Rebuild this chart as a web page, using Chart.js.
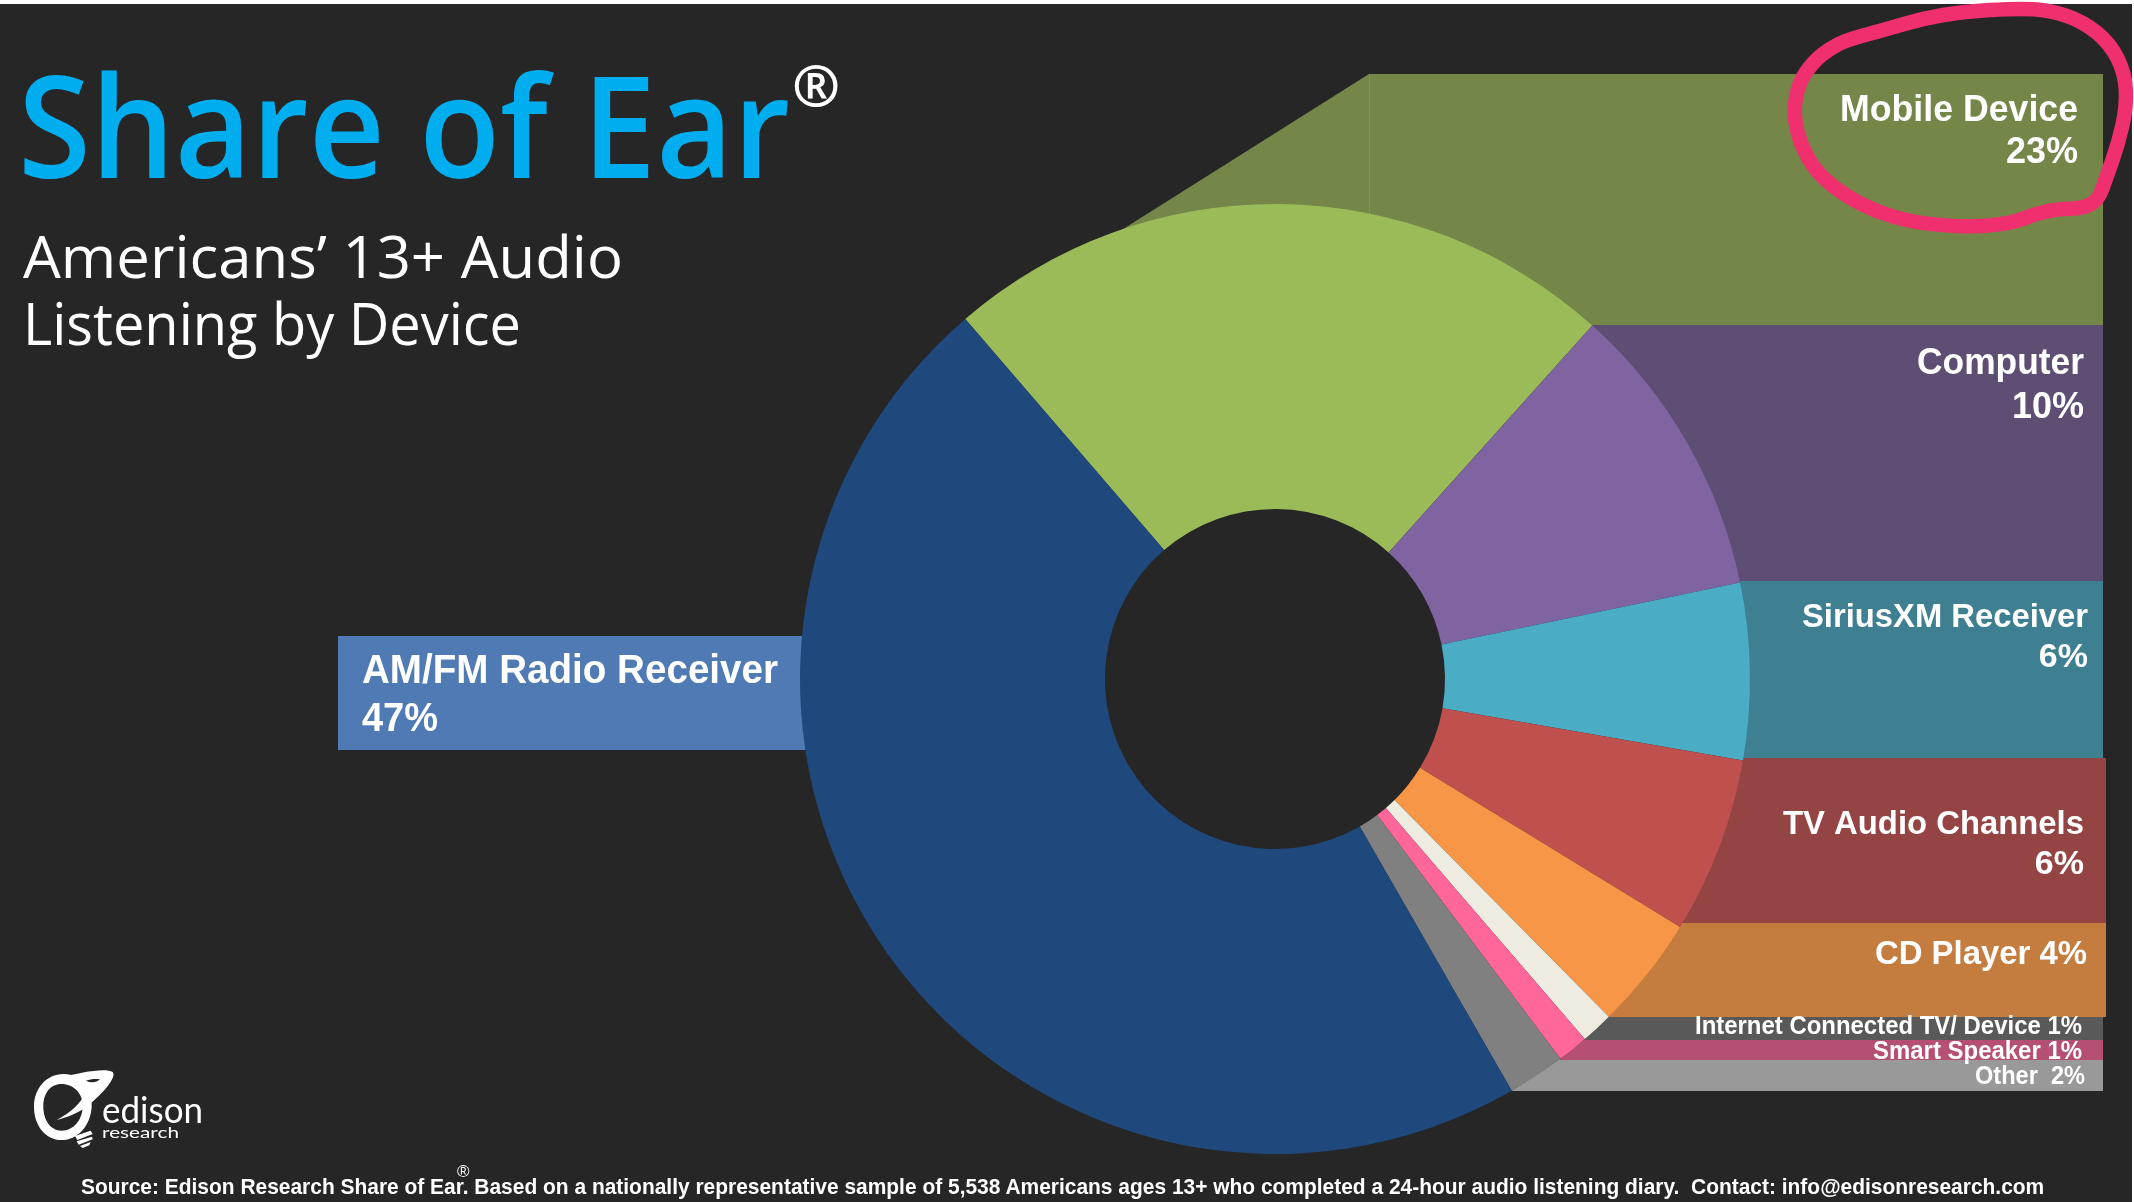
<!DOCTYPE html>
<html>
<head>
<meta charset="utf-8">
<title>Share of Ear</title>
<script src="https://cdn.jsdelivr.net/npm/chart.js@4"></script>
<style>
html,body{margin:0;padding:0;background:#fff;}
#stage{position:absolute;left:0;top:4px;width:2132px;height:1198px;background:#262626;overflow:hidden;}
#wrap{position:absolute;left:0;top:0;width:2134px;height:1202px;}
canvas{display:block;}
.t{position:absolute;white-space:pre;transform-origin:0 0;line-height:1;}
</style>
</head>
<body>
<div id="stage"></div>
<div id="wrap"><canvas id="c" width="2134" height="1202"></canvas></div>
<svg style="position:absolute;left:0;top:0" width="2134" height="1202">
  <g transform="translate(20,1060) scale(0.3333)" fill="#fff">
    <path fill-rule="evenodd" d="M130 42 C190 42 218 90 215 140 C212 195 175 240 125 240 C75 240 42 195 42 140 C42 85 80 42 130 42 Z M125 72 C90 72 70 100 70 140 C70 180 92 212 125 212 C160 212 187 180 188 140 C190 100 160 72 125 72 Z"/>
    <path fill-rule="evenodd" d="M125 52 C180 38 255 22 278 36 C292 52 245 105 200 140 C172 160 140 172 110 180 C150 158 185 130 198 92 C190 72 160 62 125 52 Z M198 62 C215 70 230 68 240 58 C225 56 210 58 198 62 Z"/>
    <path d="M165 228 L212 212 L218 222 L172 240 Z M170 244 L216 230 L218 238 L176 254 Z M180 258 L212 246 L208 256 L188 264 Z"/>
  </g>
</svg>
<script>
const categories = ["Mobile Device","Computer","SiriusXM Receiver","TV Audio Channels","CD Player","Internet Connected TV/ Device","Smart Speaker","Other","AM/FM Radio Receiver"];
const sliceShares = [22.95,10.1,6.0,6.0,3.85,1.1,1.05,1.95,47.0];
const labelPercents = ["23%","10%","6%","6%","4%","1%","1%","2%","47%"];
const sliceColors = ["#9bbb59","#8064a2","#4bacc6","#c0504d","#f79646","#eeece1","#ff6699","#808080","#1f497d"];
const bandColors = ["#748648","#5f4e73","#3e7f91","#944442","#c47c3f","#595959","#b54f73","#999999","#4f7ab3"];

/* band layout: top, bottom, right edge; labels: right edge, baselines, font, fitted width */
const bandBoxes = [[74,325,2103],[325,581,2103],[581,758,2103],[758,923,2106],[923,1017,2106],[1017,1040,2103],[1040,1060,2103],[1060,1091,2103]];
const labelLayout = [
 {x:2078,y:[121,163],size:36,lines:2,w:238},
 {x:2084,y:[374,418],size:36,lines:2,w:167},
 {x:2088,y:[627,667],size:34,lines:2,w:286},
 {x:2084,y:[834,874],size:34,lines:2,w:301},
 {x:2087,y:[964],size:33,lines:1,w:212},
 {x:2082,y:[1034],size:26,lines:1,w:387},
 {x:2082,y:[1059],size:26,lines:1,w:209},
 {x:2085,y:[1084],size:26,lines:1,w:110}
];
const ringPath = [[290,120],[400,90],[520,55],[640,35],[800,25],[900,30],[1000,65],[1080,130],[1125,220],[1130,320],[1105,430],[1070,530],[1045,600],[1000,625],[920,628],[860,640],[800,665],[700,680],[600,678],[480,665],[380,635],[290,590],[200,520],[150,430],[130,340],[145,250],[190,185],[240,145]];

const bandsPlugin = {
  id:'bands',
  beforeDatasetsDraw(chart){
    const ctx = chart.ctx, arcs = chart.getDatasetMeta(0).data;
    const pt = (a,ang)=>({x:a.x+Math.cos(ang)*a.outerRadius, y:a.y+Math.sin(ang)*a.outerRadius});
    ctx.save();
    bandBoxes.forEach((b,i)=>{
      const a = arcs[i], s = pt(a,a.startAngle), e = pt(a,a.endAngle);
      ctx.fillStyle = bandColors[i];
      ctx.beginPath();
      if(i===0){ ctx.moveTo(1093,248); ctx.lineTo(1369,b[0]); }
      else { ctx.moveTo(s.x,s.y); ctx.lineTo(s.x,b[0]); }
      ctx.lineTo(b[2],b[0]);
      ctx.lineTo(b[2],b[1]);
      ctx.lineTo(e.x,b[1]);
      ctx.lineTo(e.x,e.y);
      ctx.closePath();
      ctx.fill();
    });
    ctx.fillStyle = '#82944f';
    ctx.fillRect(1369,74,1,150);
    ctx.fillStyle = bandColors[8];
    ctx.fillRect(338,636,470,114);
    ctx.restore();
  },
  afterDatasetsDraw(chart){
    const ctx = chart.ctx;
    ctx.save();
    ctx.fillStyle = '#fff';
    ctx.textBaseline = 'alphabetic';
    ctx.textAlign = 'right';
    labelLayout.forEach((l,i)=>{
      ctx.font = `bold ${l.size}px "Liberation Sans"`;
      const sep = categories[i]==="Other" ? "  " : " ";
      if(l.lines===2){
        ctx.fillText(categories[i],l.x,l.y[0],l.w);
        ctx.fillText(labelPercents[i],l.x,l.y[1]);
      } else {
        ctx.fillText(categories[i]+sep+labelPercents[i],l.x,l.y[0],l.w);
      }
    });
    ctx.textAlign = 'left';
    ctx.font = 'bold 40px "Liberation Sans"';
    ctx.fillText(categories[8],362,683,416);
    ctx.fillText(labelPercents[8],362,731,76);
    // hand-drawn highlight ring
    const P = ringPath.map(p=>[1750+p[0]/3,p[1]/3]);
    ctx.strokeStyle = '#f0306e';
    ctx.lineWidth = 14.5;
    ctx.lineJoin = 'round';
    ctx.beginPath();
    const n = P.length;
    ctx.moveTo((P[n-1][0]+P[0][0])/2,(P[n-1][1]+P[0][1])/2);
    for(let i=0;i<n;i++){
      const q = P[(i+1)%n];
      ctx.quadraticCurveTo(P[i][0],P[i][1],(P[i][0]+q[0])/2,(P[i][1]+q[1])/2);
    }
    ctx.closePath();
    ctx.stroke();
    ctx.restore();
  }
};

new Chart(document.getElementById('c'),{
  type:'doughnut',
  data:{labels:categories,datasets:[{data:sliceShares,backgroundColor:sliceColors,borderWidth:0}]},
  options:{
    responsive:false,animation:false,devicePixelRatio:1,
    rotation:-40.7,cutout:'35.8%',
    layout:{padding:{left:800,right:384,top:204,bottom:48}},
    plugins:{legend:{display:false},tooltip:{enabled:false},title:{display:false}}
  },
  plugins:[bandsPlugin]
});

const overlays = [
 ["Share of Ear",18,178,'600 142px "Open Sans"','#00aeef',772],
 ["®",792,106,'700 58px "Open Sans"','#fff',0],
 ["Americans’ 13+ Audio",23,278,'500 58px "Open Sans"','#fff',600],
 ["Listening by Device",23,345,'500 58px "Open Sans"','#fff',498],
 ["edison",102,1123,'400 36px Lato','#fff',101],
 ["research",102,1138,'400 16px Lato','#fff',77],
 ["®",457,1177,'400 17px "Liberation Sans"','#fff',0],
 ["Source: Edison Research Share of Ear. Based on a nationally representative sample of 5,538 Americans ages 13+ who completed a 24-hour audio listening diary.  Contact: info@edisonresearch.com",81,1194,'bold 22px "Liberation Sans"','#fff',1964]
];
const meas = document.createElement('canvas').getContext('2d');
overlays.forEach(([text,x,base,font,color,w])=>{
  const d = document.createElement('div');
  d.className='t'; d.textContent=text; d.style.font=font; d.style.lineHeight='1'; d.style.color=color;
  meas.font=font;
  const m = meas.measureText(text);
  const sx = w? w/m.width : 1;
  const size = parseFloat(font.match(/(\d+)px/)[1]);
  const asc = m.fontBoundingBoxAscent, desc = m.fontBoundingBoxDescent;
  const top = base - (size-(asc+desc))/2 - asc;
  d.style.left=x+'px'; d.style.top=top+'px';
  d.style.transform=`scaleX(${sx})`;
  document.body.appendChild(d);
});
</script>
</body>
</html>
